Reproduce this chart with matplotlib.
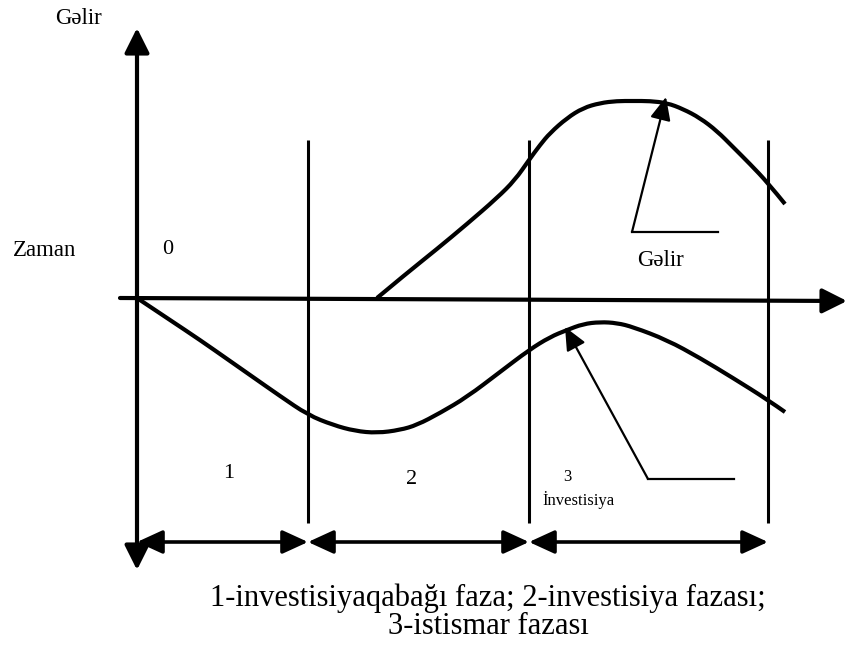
import matplotlib.pyplot as plt
from matplotlib.patches import FancyArrowPatch, PathPatch
from matplotlib.path import Path

plt.rcParams['font.family'] = ['Liberation Serif', 'DejaVu Serif']

# curve readings (picture pixel coordinates, y downwards)
gelir_x = [377, 407, 437, 467, 497, 515, 529, 540, 550, 567, 583, 600, 617, 633, 650, 667, 683, 700, 717, 733, 750, 768, 785]
gelir_y = [298, 273, 249, 224, 198, 180, 160, 145, 133, 118, 108, 103, 101, 101, 101, 103, 109, 118, 131, 147, 164, 183, 204]

xerc_x = [137, 170, 200, 230, 250, 280, 308, 333, 355, 377, 400, 417, 440, 467, 500, 529, 550, 567, 583, 600, 617, 633, 667, 700, 733, 768, 785]
xerc_y = [298, 320, 340, 361, 375, 396, 415, 425, 431, 433, 430, 425, 413, 397, 372, 350, 337, 330, 324, 322, 323, 327, 340, 358, 378, 400, 412]

phase_x = [308, 529, 768]
phase_bounds = [137, 308, 529, 768]
phase_labels = ["1", "2", "3"]
phase_label_x = [229, 412, 567]
phase_label_y = [474, 479, 477]

caption = ["1-investisiyaqabağı faza; 2-investisiya fazası;", "3-istismar fazası"]


def smooth_curve(ax, xs, ys, **kw):
    # quadratic bezier through midpoints, readings used as control points
    pts = list(zip(xs, ys))
    verts = [pts[0]]
    codes = [Path.MOVETO]
    for i in range(1, len(pts) - 1):
        mid = ((pts[i][0] + pts[i + 1][0]) / 2, (pts[i][1] + pts[i + 1][1]) / 2)
        if i == len(pts) - 2:
            mid = pts[-1]
        verts += [pts[i], mid]
        codes += [Path.CURVE3, Path.CURVE3]
    ax.add_patch(PathPatch(Path(verts, codes), fill=False, **kw))


fig = plt.figure(figsize=(8.47, 6.46), dpi=100)
ax = fig.add_axes([0, 0, 1, 1])
ax.set_xlim(0, 847)
ax.set_ylim(646, 0)
ax.axis("off")

# axes
ax.add_patch(FancyArrowPatch((137, 570), (137, 28), arrowstyle="<|-|>,head_length=1.0,head_width=0.5",
                             mutation_scale=15, lw=3, color="black", shrinkA=0, shrinkB=0))
ax.add_patch(FancyArrowPatch((120, 298), (847, 301), arrowstyle="-|>,head_length=1.0,head_width=0.5",
                             mutation_scale=15, lw=3, color="black", shrinkA=0, shrinkB=0))

# phase lines
for x in phase_x:
    ax.plot([x, x], [140, 523], color="black", lw=2.2, solid_capstyle="butt")

# phase arrows
for a, b in zip(phase_bounds[:-1], phase_bounds[1:]):
    ax.add_patch(FancyArrowPatch((a, 542), (b, 542), arrowstyle="<|-|>,head_length=1.2,head_width=0.55",
                                 mutation_scale=13, lw=2.6, color="black", shrinkA=0, shrinkB=0))

# curves
smooth_curve(ax, gelir_x, gelir_y, edgecolor="black", lw=3, capstyle="butt", joinstyle="round")
smooth_curve(ax, xerc_x, xerc_y, edgecolor="black", lw=3, capstyle="butt", joinstyle="round")

# callouts
ax.plot([632, 718], [232, 232], color="black", lw=1.6)
ax.add_patch(FancyArrowPatch((632, 232), (666, 97), arrowstyle="-|>,head_length=1.0,head_width=0.45",
                             mutation_scale=14, lw=1.6, color="black", shrinkA=0, shrinkB=0))
ax.plot([648, 734], [479, 479], color="black", lw=1.6)
ax.add_patch(FancyArrowPatch((648, 479), (565, 327), arrowstyle="-|>,head_length=1.0,head_width=0.45",
                             mutation_scale=14, lw=1.6, color="black", shrinkA=0, shrinkB=0))

# texts
ax.text(79, 18, "Gəlir", fontsize=16.5, ha="center", va="center")
ax.text(45, 250, "Zaman", fontsize=16.5, ha="center", va="center")
ax.text(168, 250, "0", fontsize=16, ha="center", va="center")
ax.text(660, 260, "Gəlir", fontsize=16.5, ha="center", va="center")
for lab, x, y in zip(phase_labels, phase_label_x, phase_label_y):
    ax.text(x, y, lab, fontsize=16 if lab != "3" else 12, ha="center", va="center")
ax.text(578, 500, "İnvestisiya", fontsize=12, ha="center", va="center")
ax.text(488, 612, "\n".join(caption), fontsize=22, ha="center", va="center",
        multialignment="center", linespacing=0.95)

fig.savefig("out.png", dpi=100)
